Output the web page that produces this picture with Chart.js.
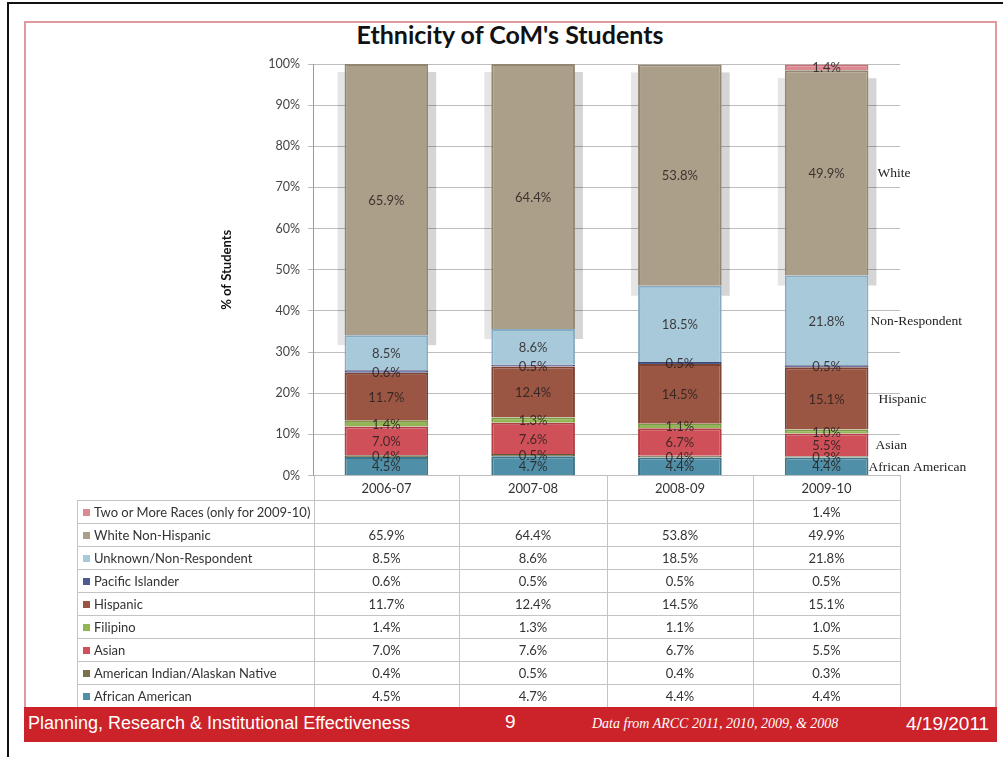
<!DOCTYPE html>
<html>
<head>
<meta charset="utf-8">
<script src="https://cdn.jsdelivr.net/npm/chart.js@4"></script>
<style>
  html,body{margin:0;padding:0;}
  body{width:1003px;height:757px;position:relative;background:#fff;overflow:hidden;font-family:Lato,"Open Sans",sans-serif;}
  #wrap{position:absolute;left:0;top:0;width:1003px;height:491px;}
  #title{position:absolute;left:200px;width:620px;top:19px;text-align:center;font:bold 25px Lato,sans-serif;color:#111;line-height:30px;}
  table{position:absolute;left:77px;top:475px;border-collapse:collapse;font:13px Lato,sans-serif;color:#333;}
  td{border:1px solid #c4c4c4;height:22px;padding:0;text-align:center;}
  td.lab{text-align:left;padding-left:5px;}
  tr.head td{height:25px;border-top:none;}
  tr.head td.blank{border:none;border-right:1px solid #c4c4c4;}
  .sq{display:inline-block;width:7px;height:7px;margin-right:4px;vertical-align:1px;}
  #footer{position:absolute;left:24px;top:707px;width:973px;height:35px;background:#cc2229;color:#fff;}
  #footer div{position:absolute;white-space:nowrap;}
</style>
</head>
<body>
<div style="position:absolute;left:7px;top:2px;width:996px;height:2px;background:#111"></div>
<div style="position:absolute;left:7px;top:2px;width:2px;height:755px;background:#111"></div>
<div style="position:absolute;left:24px;top:21px;width:973px;height:720px;border:2px solid #e09a9e;box-sizing:border-box"></div>
<div id="title">Ethnicity of CoM's Students</div>
<div id="wrap"><canvas id="c" width="1003" height="491"></canvas></div>
<table id="tbl"></table>
<div id="footer">
  <div style="left:4px;top:6px;font:18px 'Liberation Sans',Arial,sans-serif;">Planning, Research &amp; Institutional Effectiveness</div>
  <div style="left:481px;top:4px;font:19px 'Liberation Sans',Arial,sans-serif;">9</div>
  <div style="left:568px;top:9px;font:italic 14px 'Liberation Serif',serif;">Data from ARCC 2011, 2010, 2009, &amp; 2008</div>
  <div style="left:882px;top:6px;font:19px 'Liberation Sans',Arial,sans-serif;">4/19/2011</div>
</div>
<script>
const categories = ['2006-07','2007-08','2008-09','2009-10'];
const africanAmerican = [4.5, 4.7, 4.4, 4.4];
const americanIndian = [0.4, 0.5, 0.4, 0.3];
const asian = [7.0, 7.6, 6.7, 5.5];
const filipino = [1.4, 1.3, 1.1, 1.0];
const hispanic = [11.7, 12.4, 14.5, 15.1];
const pacificIslander = [0.6, 0.5, 0.5, 0.5];
const unknownNonRespondent = [8.5, 8.6, 18.5, 21.8];
const whiteNonHispanic = [65.9, 64.4, 53.8, 49.9];
const twoOrMore = [null, null, null, 1.4];
const seriesNames = ['African American','American Indian/Alaskan Native','Asian','Filipino','Hispanic','Pacific Islander','Unknown/Non-Respondent','White Non-Hispanic','Two or More Races (only for 2009-10)'];
const sideLabels = ['African American','Asian','Hispanic','Non-Respondent','White'];

const seriesData = [africanAmerican, americanIndian, asian, filipino, hispanic, pacificIslander, unknownNonRespondent, whiteNonHispanic, twoOrMore];
const fills = ['#4f8fa7','#7b7049','#cf5058','#93b654','#9a5642','#4f5b8f','#a7c9da','#ab9f89','#dc8a91'];
const borders = ['#3d7589','#625839','#b23f48','#7c9c42','#7c4232','#3e4877','#86adc3','#918670','#c87178'];

const datasets = seriesData.map((d, i) => ({
  label: seriesNames[i], data: d, backgroundColor: fills[i], borderColor: borders[i], borderWidth: 2,
  barPercentage: 0.57, categoryPercentage: 1.0
}));

// side labels: dataset index -> offset in px from bar right
const sideMap = [[0, 0], [2, 7], [4, 10], [6, 2], [7, 9]];

const shadowPlugin = {
  id: 'shadow',
  beforeDatasetsDraw(chart) {
    const ctx = chart.ctx;
    const meta = chart.getDatasetMeta(7);
    ctx.save();
    meta.data.forEach(bar => {
      const p = bar.getProps(['x','y','base','width'], true);
      const l = p.x - p.width/2, r = p.x + p.width/2;
      ctx.fillStyle = 'rgba(0,0,0,0.10)';
      ctx.fillRect(l - 7, p.y + 8, (r - l) + 15, p.base - p.y + 2);
      ctx.fillStyle = 'rgba(0,0,0,0.07)';
      ctx.fillRect(r, p.y + 8, 8, p.base - p.y + 2);
    });
    ctx.restore();
  }
};

const labelPlugin = {
  id: 'labels',
  afterDatasetsDraw(chart) {
    const ctx = chart.ctx;
    ctx.save();
    ctx.font = '13px Lato, sans-serif';
    ctx.textAlign = 'center';
    ctx.textBaseline = 'middle';
    chart.data.datasets.forEach((ds, i) => {
      const meta = chart.getDatasetMeta(i);
      meta.data.forEach((bar, j) => {
        const v = ds.data[j];
        if (v == null) return;
        const p = bar.getProps(['x','y','base'], true);
        ctx.fillStyle = 'rgba(40,30,30,0.85)';
        ctx.fillText(v.toFixed(1) + '%', p.x, (p.y + p.base) / 2 + 1);
      });
    });
    ctx.font = '13.5px "Liberation Serif", serif';
    ctx.textAlign = 'left';
    ctx.fillStyle = '#222';
    const last = categories.length - 1;
    sideMap.forEach(([di, off], k) => {
      const bar = chart.getDatasetMeta(di).data[last];
      const p = bar.getProps(['x','y','base','width'], true);
      ctx.fillText(sideLabels[k], p.x + p.width/2 + off, (p.y + p.base)/2 + 1);
    });
    ctx.restore();
  }
};

new Chart(document.getElementById('c'), {
  type: 'bar',
  data: { labels: categories, datasets },
  plugins: [shadowPlugin, labelPlugin],
  options: {
    responsive: false, animation: false,
    layout: { padding: { left: 219, right: 103, top: 64, bottom: 10 } },
    plugins: { legend: { display: false }, tooltip: { enabled: false } },
    scales: {
      x: { stacked: true, display: false },
      y: {
        stacked: true, min: 0, max: 100,
        afterFit(scale) { scale.width = 94; },
        ticks: { stepSize: 10, callback: v => v + '%', color: '#444', font: { family: 'Lato', size: 12.5 }, padding: 8 },
        grid: { color: '#bdbdbd', tickLength: 5, lineWidth: 1 },
        border: { color: '#9a9a9a' },
        title: { display: true, text: '% of Students', color: '#111', font: { family: 'Lato', size: 13, weight: 'bold' }, padding: 0 }
      }
    }
  }
});

// data table
const tbl = document.getElementById('tbl');
const widths = [236, 144, 147, 145, 146];
let html = '<tr class="head"><td class="blank" style="width:' + widths[0] + 'px"></td>' +
  categories.map((c, j) => '<td style="width:' + widths[j+1] + 'px">' + c + '</td>').join('') + '</tr>';
for (let i = seriesData.length - 1; i >= 0; i--) {
  html += '<tr><td class="lab"><span class="sq" style="background:' + fills[i] + '"></span>' + seriesNames[i] + '</td>' +
    seriesData[i].map(v => '<td>' + (v == null ? '' : v.toFixed(1) + '%') + '</td>').join('') + '</tr>';
}
tbl.innerHTML = html;
</script>
</body>
</html>
